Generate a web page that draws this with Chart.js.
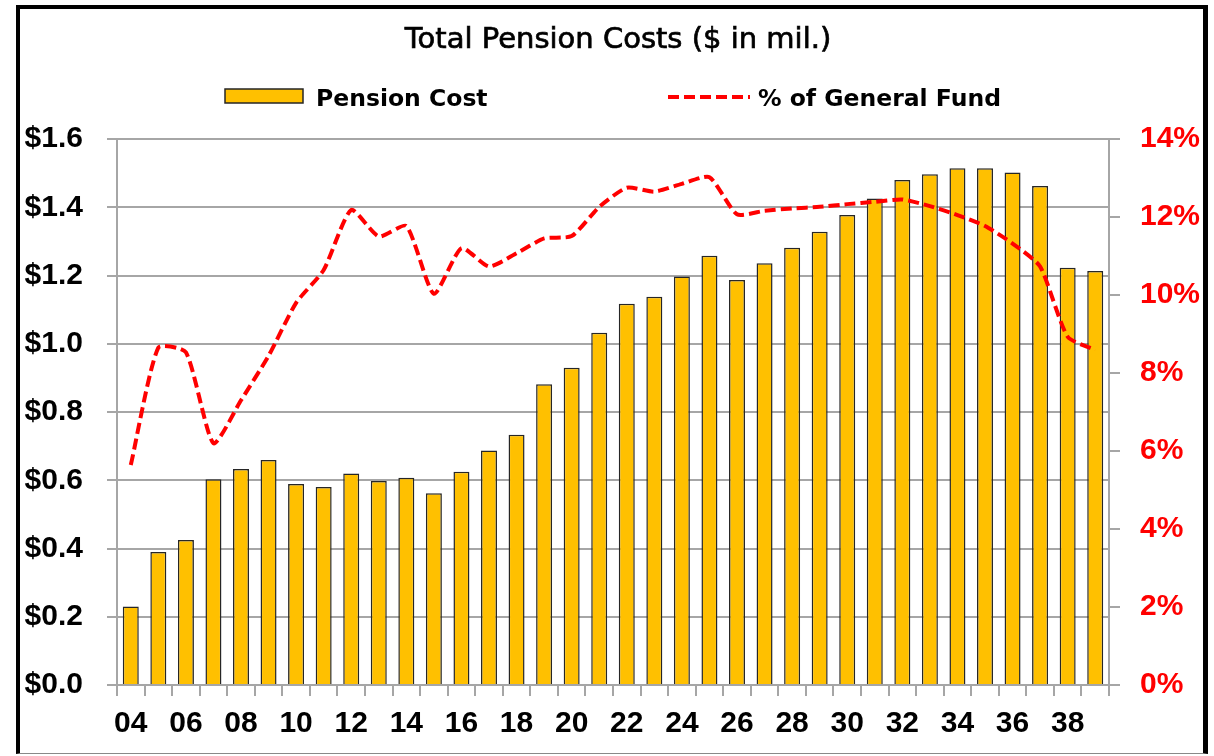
<!DOCTYPE html>
<html>
<head>
<meta charset="utf-8">
<script src="https://cdn.jsdelivr.net/npm/chart.js@4.4.1/dist/chart.umd.min.js"></script>
<style>
  html, body { margin: 0; padding: 0; background: #fff; }
  #wrap { position: relative; width: 1214px; height: 756px; overflow: hidden; }
  #frame { position: absolute; left: 16px; top: 5px; width: 1183px; height: 744px;
           border-left: 4px solid #000; border-top: 4px solid #000; border-right: 5px solid #000;
           border-bottom: 1px solid #888; pointer-events: none; }
  canvas { position: absolute; left: 0; top: 0; }
</style>
</head>
<body>
<div id="wrap">
  <canvas id="c" width="1214" height="756"></canvas>
  <div id="frame"></div>
</div>
<script>
const years = ['04','05','06','07','08','09','10','11','12','13','14','15','16','17','18','19','20','21',
               '22','23','24','25','26','27','28','29','30','31','32','33','34','35','36','37','38','39'];
const pensionCost = [0.23,0.39,0.425,0.603,0.633,0.659,0.589,0.58,0.62,0.598,0.607,0.562,0.625,0.687,0.733,0.881,0.93,1.032,
                     1.117,1.138,1.197,1.258,1.187,1.236,1.281,1.328,1.377,1.426,1.48,1.497,1.514,1.514,1.502,1.462,1.223,1.213];
const pctGeneralFund = [5.64,8.65,8.53,6.2,7.3,8.44,9.8,10.64,12.18,11.5,11.77,10.03,11.2,10.73,11.07,11.45,11.51,12.26,
                        12.75,12.65,12.85,13.02,12.07,12.16,12.22,12.26,12.33,12.39,12.45,12.28,12.05,11.77,11.32,10.73,8.93,8.59];
const titleText = 'Total Pension Costs ($ in mil.)';
const legendBar = 'Pension Cost';
const legendLine = '% of General Fund';

const GRID = '#a6a6a6';
const GOLD = '#FFC000';
const RED = '#FF0000';

const headerPlugin = {
  id: 'header',
  afterDraw(chart) {
    const ctx = chart.ctx;
    ctx.save();
    ctx.fillStyle = '#000';
    ctx.strokeStyle = '#000';
    ctx.textBaseline = 'alphabetic';
    ctx.textAlign = 'center';
    ctx.font = '29px "DejaVu Sans"';
    ctx.fillText(titleText, 618, 48);
    ctx.lineWidth = 0.7;
    ctx.strokeText(titleText, 618, 48);
    // legend: bar item
    ctx.fillStyle = GOLD;
    ctx.fillRect(225, 89, 78, 14);
    ctx.strokeStyle = '#262626';
    ctx.lineWidth = 1.5;
    ctx.strokeRect(225, 89, 78, 14);
    ctx.fillStyle = '#000';
    ctx.textAlign = 'left';
    ctx.font = 'bold 23.5px "DejaVu Sans"';
    ctx.fillText(legendBar, 316, 106);
    // legend: line item
    ctx.strokeStyle = RED;
    ctx.lineWidth = 4;
    ctx.setLineDash([11, 5]);
    ctx.beginPath();
    ctx.moveTo(668, 97);
    ctx.lineTo(750, 97);
    ctx.stroke();
    ctx.setLineDash([]);
    ctx.fillText(legendLine, 758, 106);
    ctx.restore();
  }
};

new Chart(document.getElementById('c'), {
  data: {
    labels: years,
    datasets: [
      {
        type: 'line',
        label: legendLine,
        data: pctGeneralFund,
        yAxisID: 'yR',
        borderColor: RED,
        borderWidth: 4,
        borderDash: [11, 5],
        pointRadius: 0,
        tension: 0.2,
        fill: false,
        order: 0
      },
      {
        type: 'bar',
        label: legendBar,
        data: pensionCost,
        yAxisID: 'yL',
        backgroundColor: GOLD,
        borderColor: '#262626',
        borderWidth: 1.5,
        barPercentage: 0.58,
        categoryPercentage: 1.0,
        order: 1
      }
    ]
  },
  options: {
    responsive: false,
    animation: false,
    layout: { padding: { top: 139, left: 0, right: 0, bottom: 0 } },
    plugins: { legend: { display: false }, title: { display: false }, tooltip: { enabled: false } },
    scales: {
      x: {
        grid: { display: true, drawOnChartArea: false, offset: true, color: GRID, lineWidth: 2, tickLength: 11 },
        border: { display: true, color: GRID, width: 2 },
        ticks: {
          autoSkip: false, maxRotation: 0, padding: 10, color: '#000',
          font: { family: '"Liberation Sans"', weight: 'bold', size: 30 },
          callback: (v, i) => (i % 2 === 0 ? years[i] : '')
        },
        afterFit: (s) => { s.height = 71; }
      },
      yL: {
        position: 'left', min: 0, max: 1.6,
        grid: { color: GRID, lineWidth: 2, tickLength: 10 },
        border: { display: true, color: GRID, width: 2 },
        ticks: {
          stepSize: 0.2, padding: 24, color: '#000',
          font: { family: '"Liberation Sans"', weight: 'bold', size: 30 },
          callback: (v) => '$' + Number(v).toFixed(1)
        },
        afterFit: (s) => { s.width = 117; }
      },
      yR: {
        position: 'right', min: 0, max: 14,
        grid: { drawOnChartArea: false, color: GRID, lineWidth: 2, tickLength: 11 },
        border: { display: true, color: GRID, width: 2 },
        ticks: {
          stepSize: 2, padding: 20, color: RED,
          font: { family: '"Liberation Sans"', weight: 'bold', size: 30 },
          callback: (v) => v + '%'
        },
        afterFit: (s) => { s.width = 105; }
      }
    }
  },
  plugins: [headerPlugin]
});
</script>
</body>
</html>
